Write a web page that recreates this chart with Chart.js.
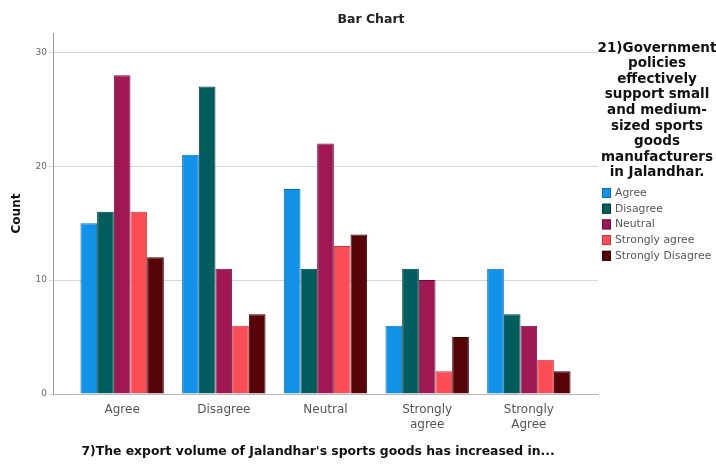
<!DOCTYPE html>
<html>
<head>
<meta charset="utf-8">
<script src="https://cdn.jsdelivr.net/npm/chart.js@4.4.1/dist/chart.umd.min.js"></script>
<style>
  html, body { margin: 0; padding: 0; background: #ffffff; }
  #wrap { width: 716px; height: 464px; position: relative; }
</style>
</head>
<body>
<div id="wrap"><canvas id="chart" width="716" height="464"></canvas></div>
<script>
// Response categories on the x axis (question 7)
const categories = ['Agree', 'Disagree', 'Neutral', 'Strongly agree', 'Strongly Agree'];
const categoryTickLabels = [['Agree'], ['Disagree'], ['Neutral'], ['Strongly', 'agree'], ['Strongly', 'Agree']];

// Grouping variable (question 21) — one series per answer
const seriesNames = ['Agree', 'Disagree', 'Neutral', 'Strongly agree', 'Strongly Disagree'];
const countsAgree            = [15, 21, 18, 6, 11];
const countsDisagree         = [16, 27, 11, 11, 7];
const countsNeutral          = [28, 11, 22, 10, 6];
const countsStronglyAgree    = [16, 6, 13, 2, 3];
const countsStronglyDisagree = [12, 7, 14, 5, 2];

const yTicks = [0, 10, 20, 30];

const legendTitleLines = ['21)Government', 'policies', 'effectively', 'support small', 'and medium-',
  'sized sports', 'goods', 'manufacturers', 'in Jalandhar.'];
const chartTitle = 'Bar Chart';
const xTitle = "7)The export volume of Jalandhar's sports goods has increased in...";
const yTitle = 'Count';

const fillColors   = ['#1192e8', '#005d5d', '#9f1853', '#fa4d56', '#570408'];
const borderColors = ['#0b6fb3', '#003d3d', '#6e0f39', '#c23a42', '#380203'];

const seriesValues = [countsAgree, countsDisagree, countsNeutral, countsStronglyAgree, countsStronglyDisagree];

const FONT = "'DejaVu Sans', 'Liberation Sans', Arial, sans-serif";

const datasets = seriesNames.map((name, s) => ({
  label: name,
  data: seriesValues[s].map((v, i) => ({ x: i, y: v })),
  backgroundColor: fillColors[s],
  borderColor: borderColors[s],
  borderWidth: 1,
  borderSkipped: 'bottom',
  categoryPercentage: 0.82,
  barPercentage: 1.0
}));

// Chart title, x-axis caption and the right-hand legend with its wrapped, bold, centred heading
const annotations = {
  id: 'annotations',
  afterDraw(chart) {
    const ctx = chart.ctx;
    ctx.save();
    ctx.textBaseline = 'middle';
    ctx.textAlign = 'center';

    ctx.fillStyle = '#222';
    ctx.font = 'bold 12.5px ' + FONT;
    ctx.fillText(chartTitle, 371, 20);

    ctx.fillStyle = '#111';
    ctx.font = 'bold 12.4px ' + FONT;
    ctx.fillText(xTitle, 318, 452);

    const cx = 657;
    ctx.font = 'bold 13.5px ' + FONT;
    legendTitleLines.forEach((line, i) => ctx.fillText(line, cx, 48 + i * 15.6));

    ctx.font = '10.8px ' + FONT;
    ctx.textAlign = 'left';
    chart.data.datasets.forEach((ds, i) => {
      const y = 193 + i * 15.7;
      ctx.fillStyle = ds.backgroundColor;
      ctx.fillRect(602, y - 5, 9, 10);
      ctx.strokeStyle = ds.borderColor;
      ctx.lineWidth = 1;
      ctx.strokeRect(602.5, y - 4.5, 8, 9);
      ctx.fillStyle = '#555';
      ctx.fillText(ds.label, 615, y);
    });
    ctx.restore();
  }
};

new Chart(document.getElementById('chart'), {
  type: 'bar',
  data: { datasets },
  plugins: [annotations],
  options: {
    responsive: false,
    animation: false,
    events: [],
    layout: { padding: { left: 0, right: 118, top: 33, bottom: 0 } },
    plugins: {
      legend: { display: false },
      tooltip: { enabled: false },
      title: { display: false }
    },
    scales: {
      x: {
        type: 'linear',
        offset: false,
        min: -0.68,
        max: 4.68,
        afterBuildTicks(scale) {
          scale.ticks = categories.map((_, i) => ({ value: i }));
        },
        afterFit(scale) { scale.height = 70; },
        grid: { display: false, drawTicks: false, offset: false },
        border: { display: true, color: '#b5b5b5', width: 1 },
        ticks: {
          autoSkip: false,
          maxRotation: 0,
          padding: 9,
          color: '#555',
          font: { family: FONT, size: 12 },
          callback: (v) => categoryTickLabels[v] || ''
        }
      },
      y: {
        min: 0,
        max: 31.7,
        afterBuildTicks(scale) {
          scale.ticks = yTicks.map(v => ({ value: v }));
        },
        afterFit(scale) { scale.width = 53; },
        grid: { color: '#d6d6d6', tickLength: 4, drawOnChartArea: true },
        border: { display: true, color: '#9a9a9a', width: 1 },
        ticks: {
          padding: 2,
          color: '#666',
          font: { family: FONT, size: 9 }
        },
        title: {
          display: true,
          text: yTitle,
          color: '#111',
          font: { family: FONT, size: 12, weight: 'bold' },
          padding: { top: 10, bottom: 0 }
        }
      }
    }
  }
});
</script>
</body>
</html>
